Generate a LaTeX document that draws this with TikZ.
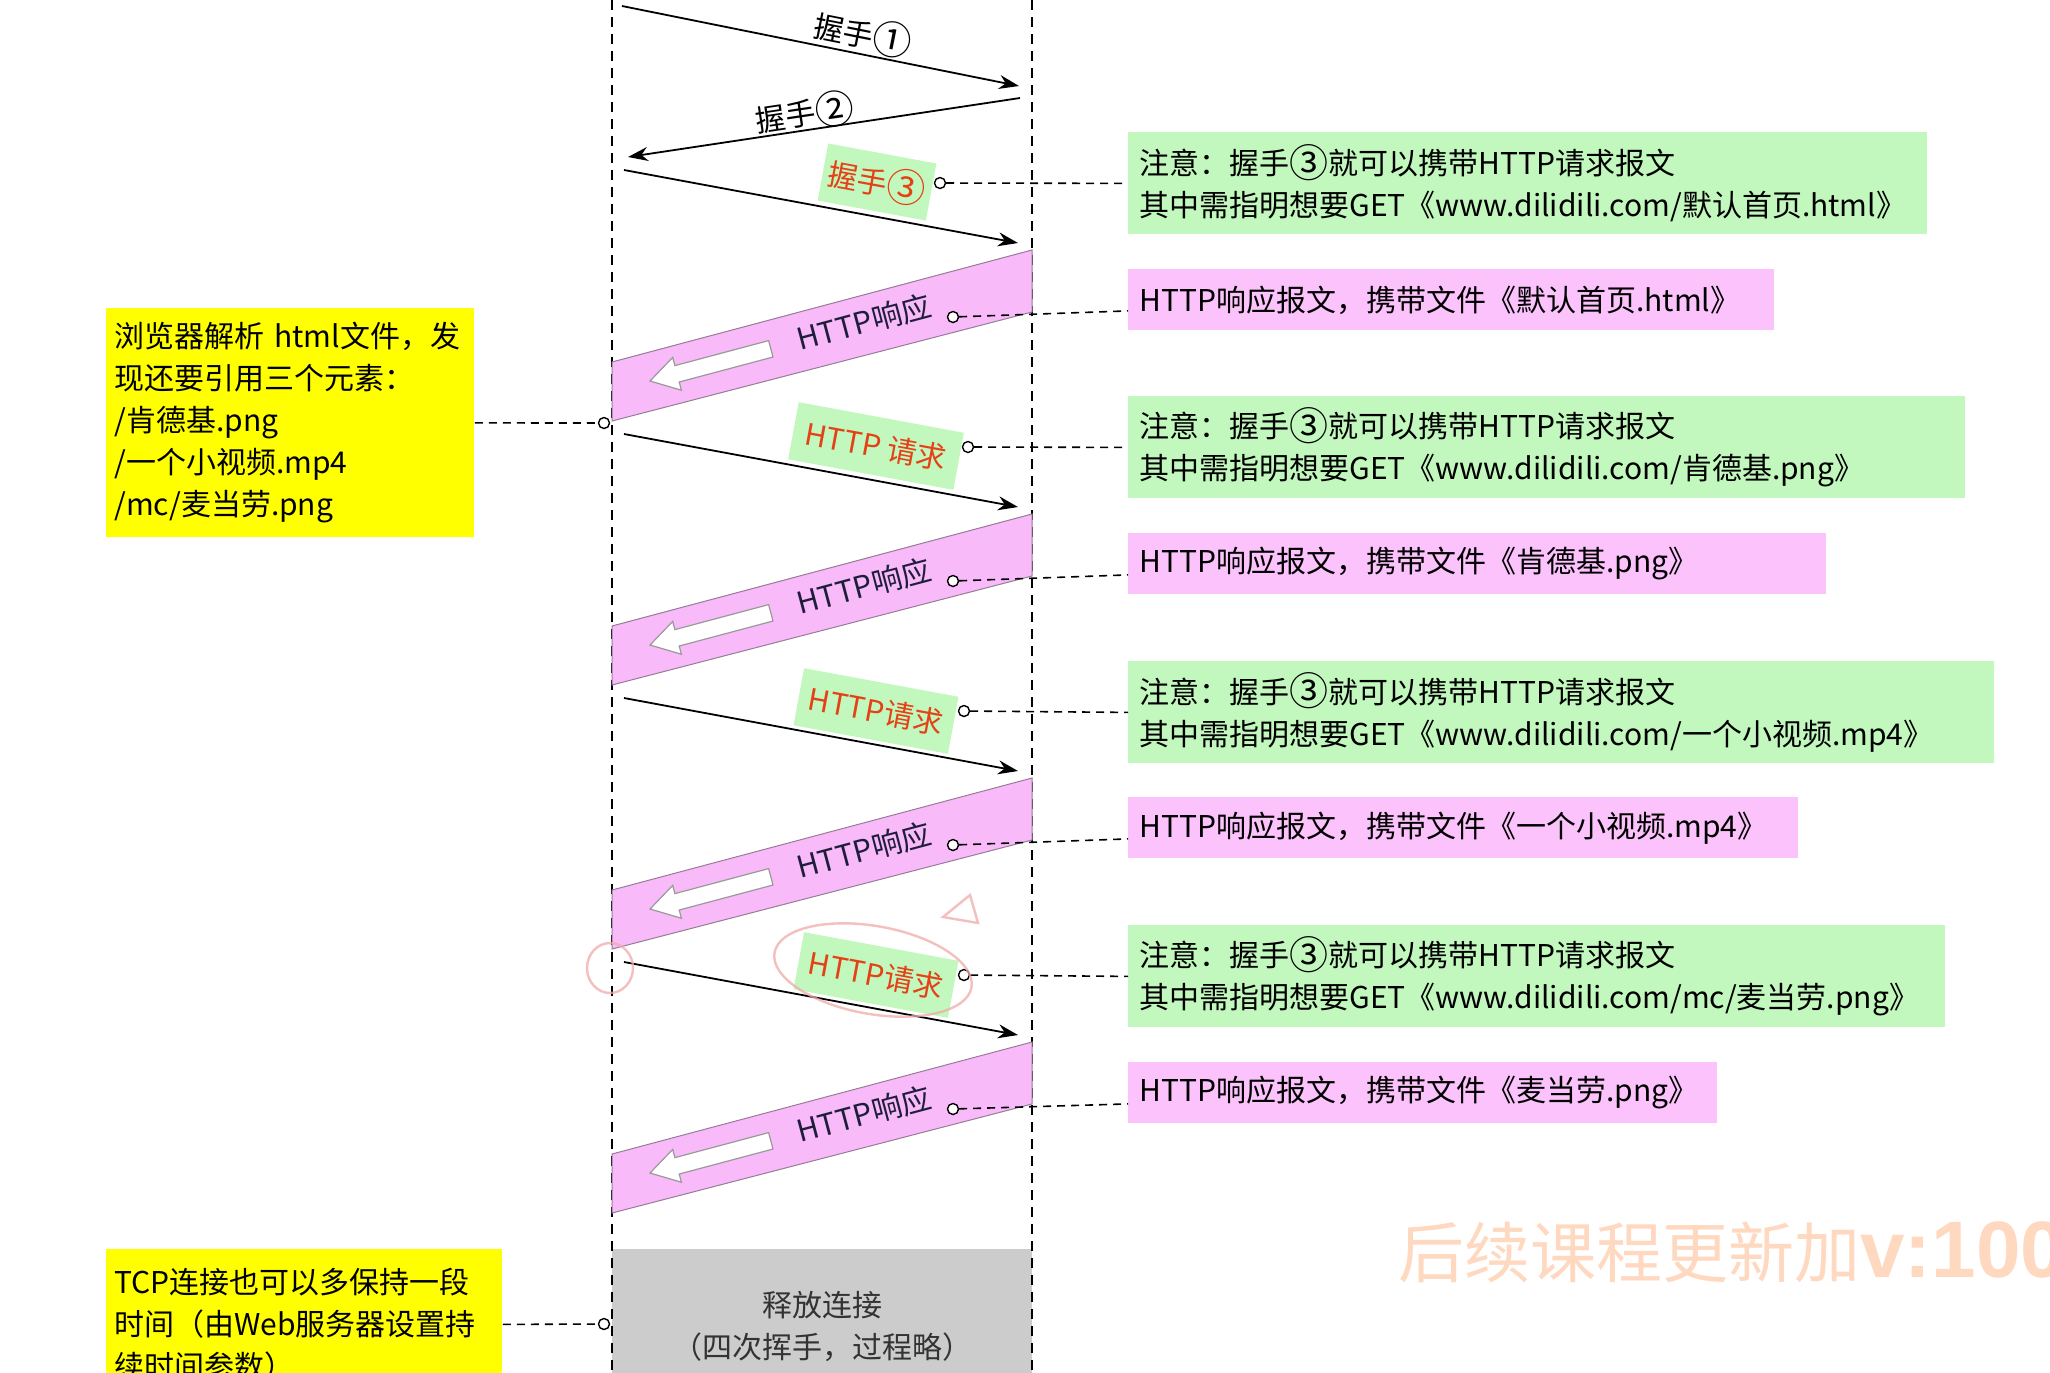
\documentclass[tikz,border=0pt]{standalone}
\usepackage{graphicx}
\usepackage{fontspec}
\setmainfont{Noto Sans CJK SC}
\newfontfamily\wmlatin{Liberation Sans}
\usetikzlibrary{arrows.meta,calc}
\definecolor{bandpink}{RGB}{248,186,248}
\definecolor{boxpink}{RGB}{252,194,252}
\definecolor{boxgreen}{RGB}{194,248,190}
\definecolor{boxyellow}{RGB}{255,255,0}
\definecolor{grayfill}{RGB}{204,204,204}
\definecolor{lblred}{RGB}{228,66,22}
\definecolor{bandedge}{RGB}{150,125,150}
\definecolor{txtnavy}{RGB}{30,30,60}
\definecolor{wmorange}{RGB}{255,216,192}
\definecolor{scribblec}{RGB}{240,170,170}
\newcommand\myfs{\fontsize{15pt}{21pt}\selectfont}
\newcommand\cnum[1]{\raisebox{-0.09em}{\scalebox{1.3}{#1}}}
\begin{document}
\begin{tikzpicture}[x=0.5pt,y=-0.5pt,
  lifeline/.style={dash pattern=on 5pt off 3.5pt, line width=0.8pt},
  conn/.style={dash pattern=on 4pt off 3pt, line width=0.8pt},
  dot/.style={circle, draw, line width=0.7pt, fill=white, inner sep=0pt, minimum size=5.5pt},
  msg/.style={-{Stealth[length=10pt,width=7pt]}, line width=0.9pt},
  band/.style={fill=bandpink, draw=bandedge, line width=0.5pt},
  hollow/.style={fill=white, draw=black!40, line width=0.6pt},
  bandtxt/.style={rotate=14.9, font=\myfs, text=txtnavy, inner sep=0pt},
  reqlbl/.style={rotate=-10.5, fill=boxgreen, font=\myfs, text=lblred, minimum height=29pt, inner sep=0pt},
  gnote/.style={fill=boxgreen, anchor=north west, minimum height=51pt, inner xsep=5.5pt, inner ysep=0pt, align=left, font=\myfs},
  pnote/.style={fill=boxpink, anchor=north west, minimum height=30.5pt, inner xsep=5.5pt, inner ysep=0pt, align=left, font=\myfs},
  ynote/.style={fill=boxyellow, anchor=north west, inner xsep=4pt, inner ysep=0pt, align=left, font=\myfs},
  scribble/.style={draw=scribblec, line width=1.2pt, opacity=0.75}
]
\useasboundingbox (0,0) rectangle (2050,1372);
\fill[white] (0,0) rectangle (2050,1372);

% release box
\node[fill=grayfill, anchor=north west, minimum width=210pt, minimum height=75pt, inner sep=0pt] (rel) at (612,1249) {};
\node[font=\myfs, align=center, text=black!80] (reltxt) at (822,1326) {释放连接\\（四次挥手，过程略）};

% lifelines
\coordinate (cl0) at (612,0); \coordinate (cl1) at (612,1372);
\coordinate (sl0) at (1032,0); \coordinate (sl1) at (1032,1372);
\draw[lifeline] (cl0) -- (cl1);
\draw[lifeline] (sl0) -- (sl1);

% handshakes 1 and 2
\coordinate (h1s) at (622,6); \coordinate (h1e) at (1019,86);
\draw[msg] (h1s) -- (h1e);
\node[rotate=-11.3, font=\myfs] (h1l) at (863,34) {握手\cnum{①}};
\coordinate (h2s) at (1020,98); \coordinate (h2e) at (628,157);
\draw[msg] (h2s) -- (h2e);
\node[rotate=8.5, font=\myfs] (h2l) at (805,113) {握手\cnum{②}};

% rounds
\foreach \k in {0,1,2,3}{
  \pgfmathsetmacro\dy{264*\k}
  \coordinate (qs\k) at (624,170+\dy);
  \coordinate (qe\k) at (1018,243+\dy);
  \draw[msg] (qs\k) -- (qe\k);
  \draw[band] (612,362+\dy) -- (1032,250+\dy) -- (1032,312+\dy) -- (612,421+\dy) -- cycle;
  \draw[hollow] (650,381+\dy) -- (681.4,390.2+\dy) -- (679.2,382+\dy) -- (773,357+\dy) -- (768.6,340.6+\dy) -- (674.9,365.6+\dy) -- (672.7,357.4+\dy) -- cycle;
  \node[bandtxt] (bt\k) at (864,322+\dy) {HTTP响应};
}

% request labels
\node[reqlbl, minimum width=55pt] (lb0) at (877,182) {握手\cnum{③}};
\node[reqlbl, minimum width=84pt] (lb1) at (876,446) {HTTP 请求};
\node[reqlbl, minimum width=78.5pt] (lb2) at (876,711) {HTTP请求};
\node[reqlbl, minimum width=78.5pt] (lb3) at (876,975) {HTTP请求};

% green notes
\node[gnote, text width=388.5pt] (g0) at (1128,132) {注意：握手\cnum{③}就可以携带HTTP请求报文\\其中需指明想要GET《www.dilidili.com/默认首页.html》};
\node[gnote, text width=407.5pt] (g1) at (1128,396) {注意：握手\cnum{③}就可以携带HTTP请求报文\\其中需指明想要GET《www.dilidili.com/肯德基.png》};
\node[gnote, text width=422pt] (g2) at (1128,661) {注意：握手\cnum{③}就可以携带HTTP请求报文\\其中需指明想要GET《www.dilidili.com/一个小视频.mp4》};
\node[gnote, text width=397.5pt] (g3) at (1128,925) {注意：握手\cnum{③}就可以携带HTTP请求报文\\其中需指明想要GET《www.dilidili.com/mc/麦当劳.png》};

% pink notes
\node[pnote, text width=312pt] (p0) at (1128,269) {HTTP响应报文，携带文件《默认首页.html》};
\node[pnote, text width=338pt] (p1) at (1128,533) {HTTP响应报文，携带文件《肯德基.png》};
\node[pnote, text width=324pt] (p2) at (1128,797) {HTTP响应报文，携带文件《一个小视频.mp4》};
\node[pnote, text width=283.5pt] (p3) at (1128,1062) {HTTP响应报文，携带文件《麦当劳.png》};

% dots
\node[dot] (qd0) at (940,183) {};
\node[dot] (qd1) at (968,447) {};
\node[dot] (qd2) at (964,711) {};
\node[dot] (qd3) at (964,975) {};
\foreach \k in {0,1,2,3}{
  \pgfmathsetmacro\dy{264*\k}
  \node[dot] (rd\k) at (953,317+\dy) {};
}
\foreach \k in {0,1,2,3}{
  \draw[conn] (qd\k) -- (g\k.west);
  \draw[conn] (rd\k) -- ([yshift=-5.5pt]p\k.west);
}

% yellow notes
\node[ynote, text width=176pt, minimum height=114.5pt] (y1) at (106,308) {浏览器解析~html文件，发\\现还要引用三个元素：\\/肯德基.png\\/一个小视频.mp4\\/mc/麦当劳.png};
\node[dot] (ld1) at (604,423) {};
\draw[conn] (y1.east) -- (ld1);
\node[ynote, text width=190pt, minimum height=75pt] (y2) at (106,1249) {TCP连接也可以多保持一段\\时间（由Web服务器设置持\\续时间参数）};
\node[dot] (ld2) at (604,1324) {};
\draw[conn] (y2.east) -- (ld2);

% hand-drawn marks
\draw[scribble] (610,968) ellipse [x radius=11.5pt, y radius=12.5pt];
\draw[scribble, rotate around={-10:(873,970)}] (873,970) ellipse [x radius=50pt, y radius=22pt];
\draw[scribble] (970,895) -- (943,917) -- (978,923) -- cycle;

% watermark
\node[anchor=base west, text=wmorange, inner sep=0pt] (wm) at (1398,1277) {\fontsize{33pt}{33pt}\selectfont 后续课程更新加{\wmlatin\bfseries\fontsize{40pt}{40pt}\selectfont v:100}};
\end{tikzpicture}
\end{document}
